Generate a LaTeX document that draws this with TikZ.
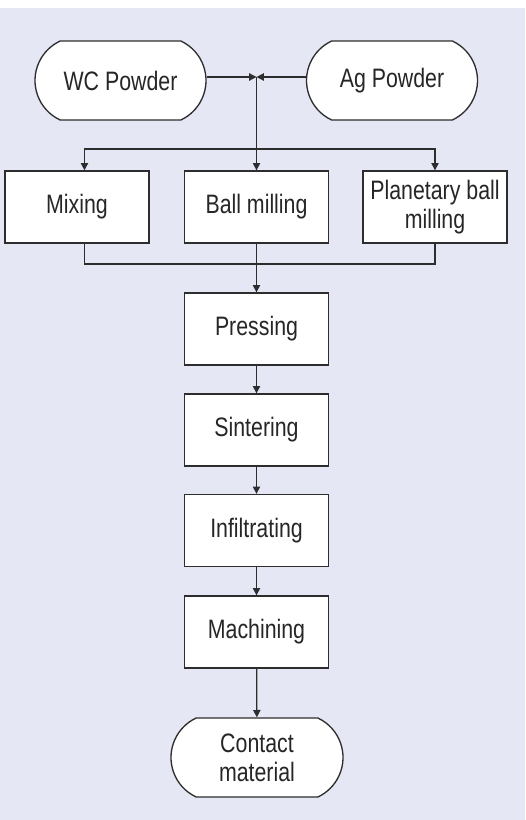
\documentclass[tikz,border=0pt]{standalone}
\usepackage{fontspec}
\setmainfont{Liberation Sans}[FakeStretch=0.8]
\usetikzlibrary{arrows.meta,shapes.misc}
\definecolor{bgcol}{RGB}{229,231,245}
\definecolor{linecol}{RGB}{45,45,45}
\tikzset{every picture/.style={line width=0.75pt}}
\tikzset{
  procbox/.style={draw=linecol, fill=white, line width=1pt, minimum width=108pt, minimum height=54pt, inner sep=0pt, align=center, font=\fontsize{20}{21.5}\selectfont, text=black!85},
  termbox/.style={procbox, rounded rectangle, rounded rectangle arc length=130, minimum width=128.25pt, minimum height=59.25pt},
  flow/.style={draw=linecol, line width=0.9pt, -{Triangle[length=5.5pt,width=5.5pt]}},
  plain/.style={draw=linecol, line width=0.9pt}
}

\begin{document}
\begin{tikzpicture}[x=0.75pt,y=0.75pt,yscale=-1,xscale=1]
\useasboundingbox (0,0) rectangle (525,820);
%background panel
\fill [bgcol] (0,8) rectangle (525,820);

%Terminal Nodes
\node [termbox] (wc) at (120.5,80.5) {WC Powder};
\node [termbox] (ag) at (392,80.5) {Ag Powder};
%Process Nodes
\node [procbox] (mixing) at (77,207) {Mixing};
\node [procbox] (ball) at (256.5,207) {Ball milling};
\node [procbox] (planetary) at (435,207) {Planetary ball\\milling};
\node [procbox] (pressing) at (256.5,329) {Pressing};
\node [procbox] (sintering) at (256.5,430) {Sintering};
\node [procbox] (infiltrating) at (256.5,530.5) {Infiltrating};
\node [procbox] (machining) at (256.5,632) {Machining};
\node [termbox, minimum width=129pt] (contact) at (257,757.5) {Contact\\material};

%Junctions
\coordinate (merge) at (256.5,77);
\coordinate (split) at (256.5,149);
\coordinate (join) at (256.5,264);

%Connectors
\draw [flow] (wc.east |- merge) -- (merge);
\draw [flow] (ag.west |- merge) -- (merge);
\draw [flow] (merge) -- (ball.north);
\draw [flow] (split) -| ([xshift=5.6pt]mixing.north);
\draw [flow] (split) -| (planetary.north);
\draw [plain] ([xshift=5.6pt]mixing.south) |- (join) -| (planetary.south);
\draw [flow] (ball.south) -- (pressing.north);
\draw [flow] (pressing) -- (sintering);
\draw [flow] (sintering) -- (infiltrating);
\draw [flow] (infiltrating) -- (machining);
\draw [flow] (machining) -- (contact);

\end{tikzpicture}
\end{document}
